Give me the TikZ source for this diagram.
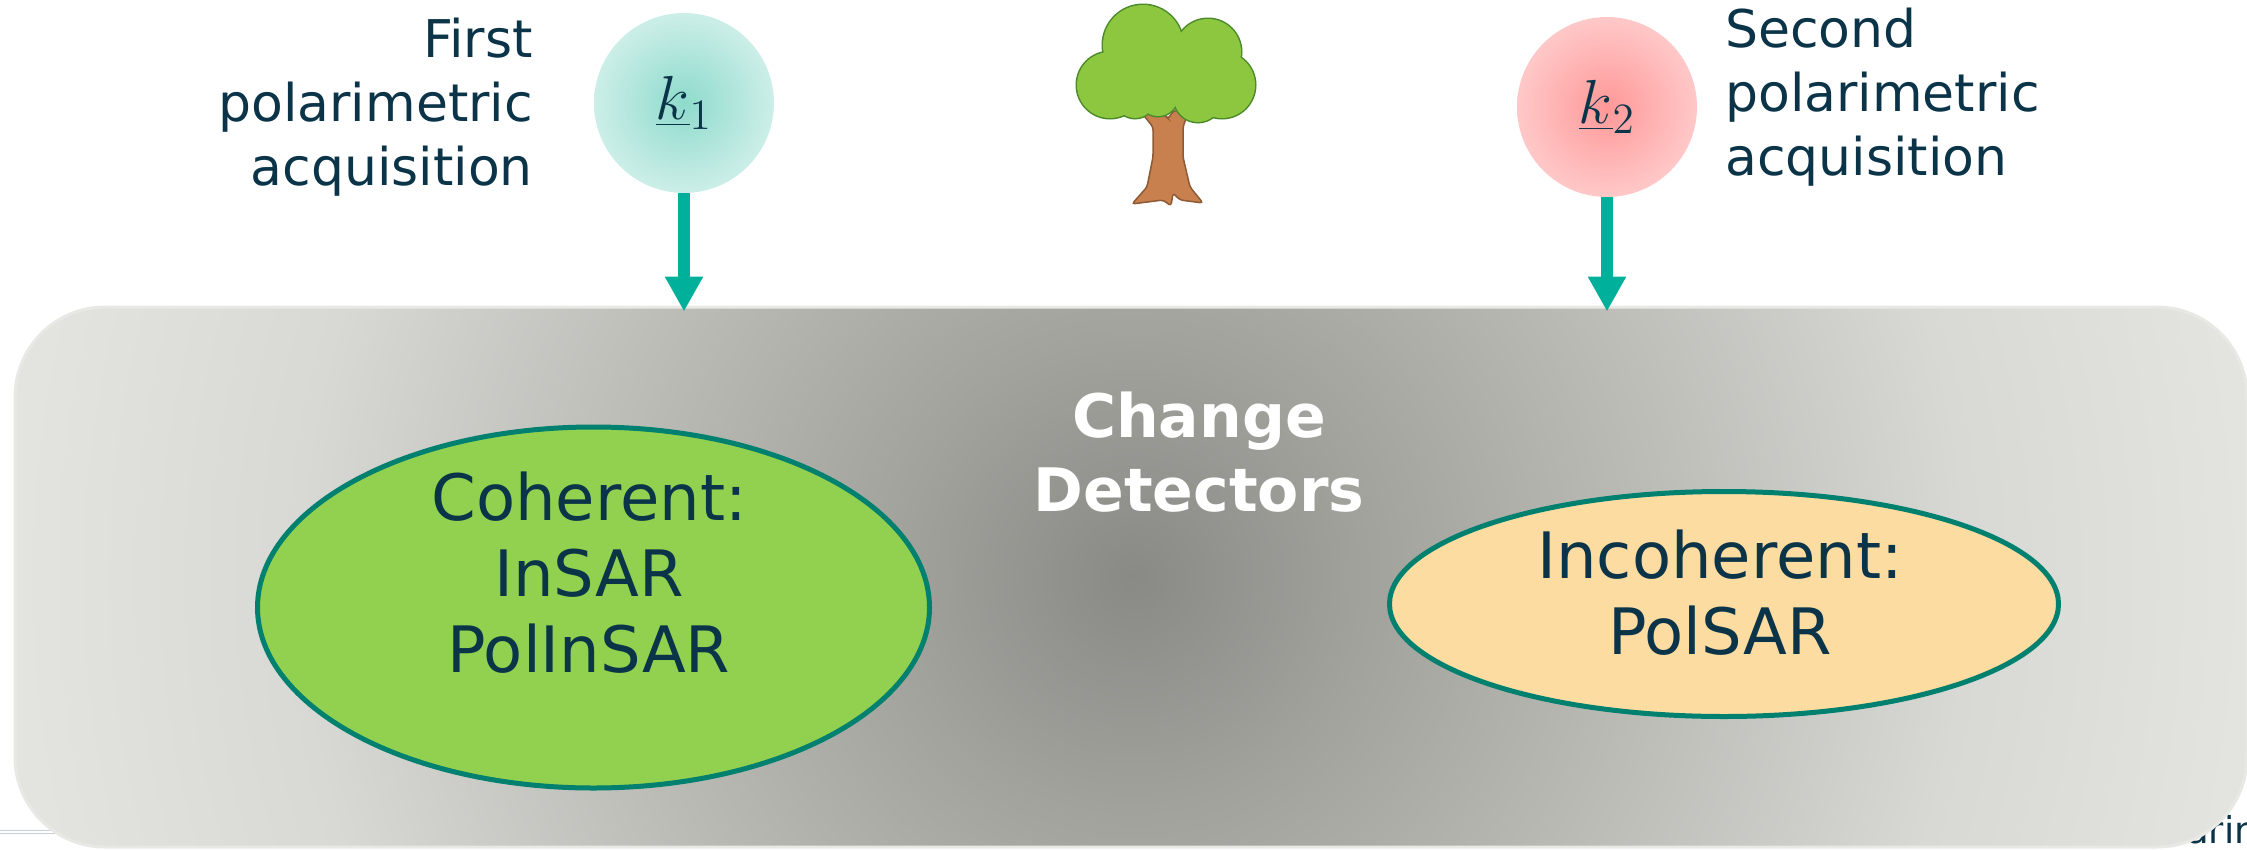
\documentclass[tikz,border=0pt]{standalone}
\usepackage{graphicx}
\usepackage[no-math]{fontspec}
\setmainfont{DejaVu Sans}
\usetikzlibrary{arrows.meta,shapes.geometric}

% palette
\definecolor{navy}{RGB}{11,52,72}
\definecolor{tealarrow}{RGB}{0,176,154}
\definecolor{ringedge}{RGB}{0,128,111}
\definecolor{cohfill}{RGB}{146,208,80}
\definecolor{incfill}{RGB}{253,220,162}
\definecolor{kAin}{RGB}{142,219,204}
\definecolor{kAout}{RGB}{204,238,232}
\definecolor{kBin}{RGB}{255,152,152}
\definecolor{kBout}{RGB}{255,200,200}
\definecolor{bxA}{RGB}{137,138,133}
\definecolor{bxB}{RGB}{162,162,157}
\definecolor{bxC}{RGB}{187,187,182}
\definecolor{bxD}{RGB}{216,217,212}
\definecolor{bxE}{RGB}{227,228,223}
\definecolor{rim}{RGB}{232,233,228}
\definecolor{leaf}{RGB}{141,198,63}
\definecolor{leafline}{RGB}{74,138,42}
\definecolor{bark}{RGB}{200,128,78}
\definecolor{barkline}{RGB}{141,90,53}
\definecolor{rule}{RGB}{200,206,212}

% shadings (25bp is the edge of the filled box)
\pgfdeclareradialshading{boxglow}{\pgfpoint{0bp}{0bp}}{color(0bp)=(bxA); color(5bp)=(bxB); color(11bp)=(bxC); color(18bp)=(bxD); color(24bp)=(bxE); color(25bp)=(bxE); color(50bp)=(bxE)}
\pgfdeclareradialshading{kone}{\pgfpoint{0bp}{0bp}}{color(0bp)=(kAin); color(25bp)=(kAout); color(50bp)=(kAout)}
\pgfdeclareradialshading{ktwo}{\pgfpoint{0bp}{0bp}}{color(0bp)=(kBin); color(25bp)=(kBout); color(50bp)=(kBout)}

% large vector symbol
\newcommand{\bigvec}[1]{\scalebox{3}{$\underline{k}_{#1}$}}

\begin{document}
\begin{tikzpicture}[x=1pt,y=-1pt,
  sidelabel/.style={font=\fontsize{52}{64}\selectfont, text=navy, inner sep=0pt},
  inlabel/.style={font=\fontsize{64}{76}\selectfont, text=navy, inner sep=0pt, align=center, anchor=north},
  titlelabel/.style={font=\fontsize{60}{74}\selectfont\bfseries, text=white, inner sep=0pt, align=center, anchor=north},
  vecnode/.style={circle, minimum size=180pt, inner sep=0pt, text=navy, font=\fontsize{20}{20}\selectfont},
  feed/.style={draw=tealarrow, line width=12pt, -{Triangle[width=36pt,length=35pt]}, shorten >=-6pt},
  detector/.style={ellipse, draw=ringedge, line width=5pt, inner sep=0pt}
]
\useasboundingbox (0,0) rectangle (2247,849);

% items behind the panel
\draw[rule, line width=1pt] (0,830) -- (60,830);
\draw[rule, line width=1pt] (0,833) -- (60,833);
\node[anchor=base west, inner sep=0pt, text=navy, font=\fontsize{37}{40}\selectfont] (tail) at (2186,843) {arin};

% shaded panel
\begin{scope}
  \clip[rounded corners=90pt] (15,307) rectangle (2247,847);
  \shade[shading=boxglow] (-27,-583) rectangle (2293,1737);
\end{scope}
\node[draw=rim, line width=3pt, rounded corners=90pt, minimum width=2232pt, minimum height=540pt, inner sep=0pt] (box) at (1131,577) {};

% acquisitions
\node[vecnode, shading=kone] (k1) at (684,103) {\bigvec{1}};
\node[vecnode, shading=ktwo] (k2) at (1607,107) {\bigvec{2}};
\draw[feed] (k1) -- (k1 |- box.north);
\draw[feed] (k2) -- (k2 |- box.north);

\node[sidelabel, align=right, anchor=north east] (first) at (533,17.5) {First\\polarimetric\\acquisition};
\node[sidelabel, align=left, anchor=north west] (second) at (1725,7.5) {Second\\polarimetric\\acquisition};

% tree: trunk
\draw[fill=bark, draw=barkline, line width=1.5pt, rounded corners=3pt]
  (1141.7,113) -- (1165,115) -- (1168,119) -- (1173,111) -- (1190,108)
  -- (1183,127) -- (1183,157) -- (1190,187) -- (1203,203)
  -- (1180,200) -- (1173,193) -- (1171,206) -- (1163,200) -- (1132,204)
  -- (1147,187) -- (1153,157) -- (1153,127) -- cycle;
% tree: crown (outline pass, then fill pass)
\foreach \cx/\cy/\r in {1143/45/40, 1208/52/33, 1222/85/33, 1110/85/33, 1135/98/20, 1158/96/20, 1198/98/24}
  \draw[leafline, line width=3pt] (\cx,\cy) circle[radius=\r];
\foreach \cx/\cy/\r in {1143/45/40, 1208/52/33, 1222/85/33, 1110/85/33, 1135/98/20, 1158/96/20, 1198/98/24}
  \fill[leaf] (\cx,\cy) circle[radius=\r];
\fill[leaf] (1170,70) ellipse[x radius=60, y radius=30];

% detectors
\node[titlelabel] (title) at (1199,392) {Change\\Detectors};
\node[detector, fill=cohfill, minimum width=672pt, minimum height=361pt] (coh) at (593.5,607.5) {};
\node[detector, fill=incfill, minimum width=669pt, minimum height=225pt] (inc) at (1724,604) {};
\node[inlabel] (cohtext) at (589,471.4) {Coherent:\\InSAR\\PolInSAR};
\node[inlabel] (inctext) at (1720,529.4) {Incoherent:\\PolSAR};
\end{tikzpicture}
\end{document}
